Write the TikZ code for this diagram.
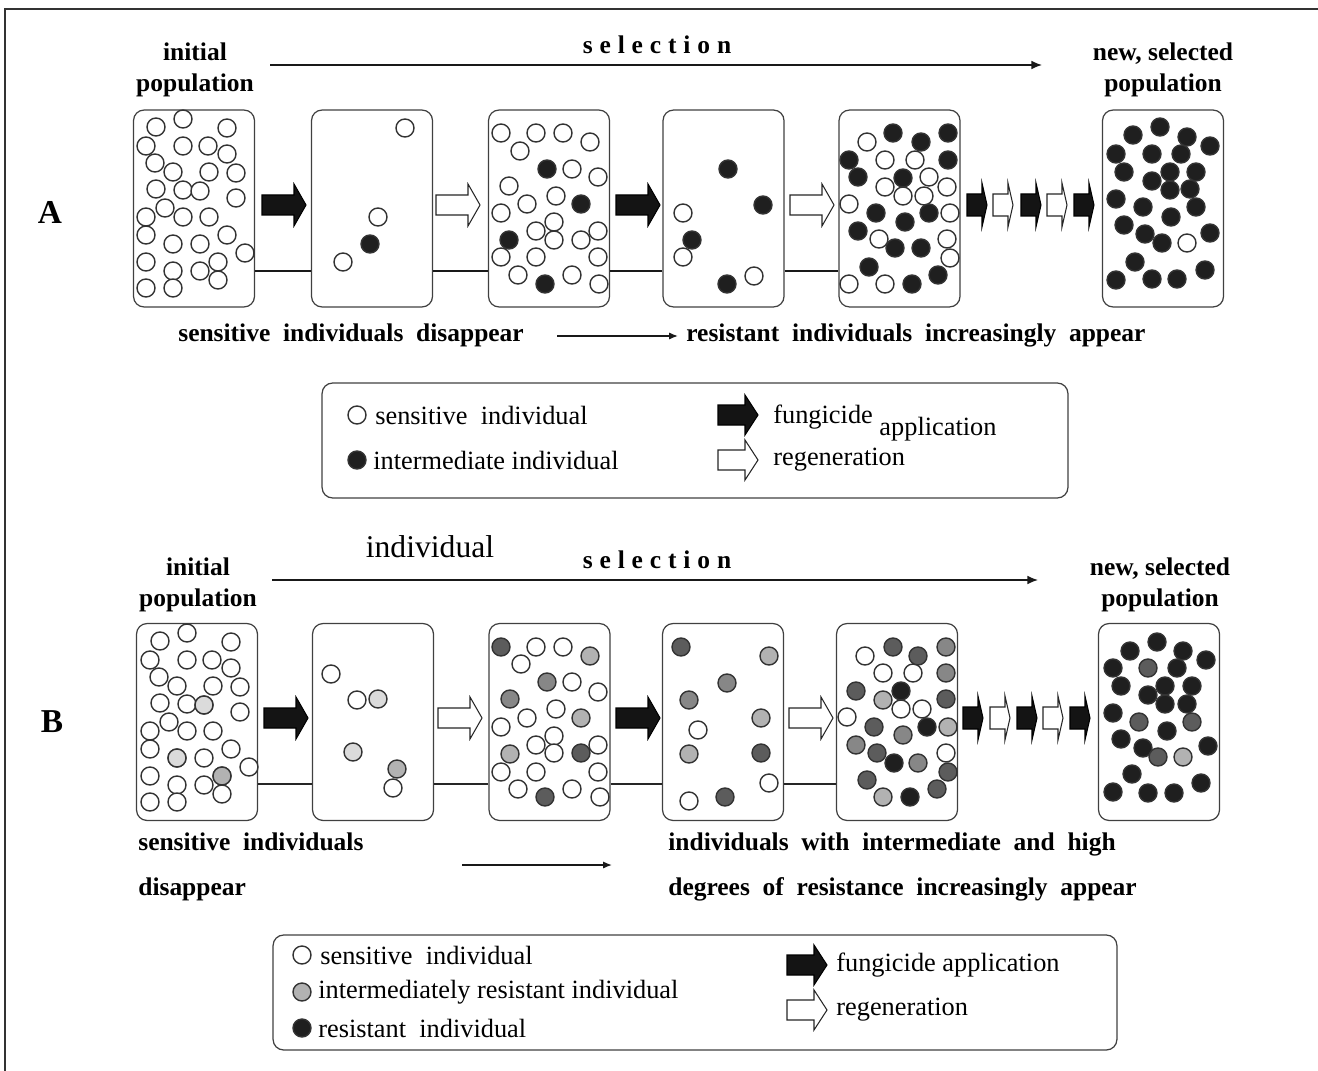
\documentclass[tikz,border=0pt]{standalone}
\usepackage{fontspec}
\setmainfont{Liberation Serif}
\usetikzlibrary{arrows.meta}
\newcommand{\labfont}{\fontsize{14.5}{17.6}\selectfont\bfseries}
\newcommand{\legfont}{\fontsize{15}{18}\selectfont}
\newcommand{\spaced}[1]{{\addfontfeatures{LetterSpace=27}#1}}
% positions of the first population, reused for B
\def\startpop{156/127,183/119,227/128,146/146,183/146,208/146,227/154,155/163,173/172,209/172,236/173,156/189,183/190,200/191,236/198,165/208,146/217,183/217,209/217,146/235,227/235,173/244,200/244,245/253,146/262,218/262,173/271,200/271,218/280,146/288,173/288}
\tikzset{
  indiv/.style={draw=black!80,line width=0.8pt},
  sensdot/.style={indiv,fill=white},
  paledot/.style={indiv,fill=black!14},
  ltdot/.style={indiv,fill=black!30},
  mddot/.style={indiv,fill=black!47},
  dkdot/.style={indiv,fill=black!64},
  resdot/.style={indiv,fill=black!88},
  popbox/.style={draw=black!75,line width=0.7pt,rounded corners=6pt,
                 minimum width=2.42cm,minimum height=3.94cm,inner sep=0pt},
  legbox/.style={draw=black!75,line width=0.7pt,rounded corners=6pt,
                 minimum height=2.3cm,inner sep=0pt},
  linkA/.style={black!90,line width=1.1pt},
  linkB/.style={black!85,line width=0.7pt},
  selarrow/.style={black!90,line width=0.9pt,-{Latex[length=6pt,width=5pt]}},
  bigarrow/.pic={\path[pic actions] (0,-10) -- (32,-10) -- (32,-21) -- (44,0)
                   -- (32,21) -- (32,10) -- (0,10) -- cycle;},
  smallarrow/.pic={\path[pic actions] (0,-11) -- (15,-11) -- (15,-22) -- (20,0)
                   -- (15,22) -- (15,11) -- (0,11) -- cycle;},
  legarrow/.pic={\path[pic actions] (0,-10) -- (27,-10) -- (27,-20) -- (40,0)
                   -- (27,20) -- (27,10) -- (0,10) -- cycle;},
  fung/.style={draw=black,fill=black!92,line width=0.6pt},
  regen/.style={draw=black!85,fill=white,line width=0.6pt},
}

\begin{document}
\begin{tikzpicture}[x=0.02cm,y=-0.02cm]
  \useasboundingbox (0,0) rectangle (1318,1071);
  \draw[black!80,line width=1.2pt] (5,1075) -- (5,9) -- (1322,9);

  % ---------------- A ----------------
  \node[font=\fontsize{19}{20}\selectfont\bfseries] (labA) at (50,212) {A};
  \node[font=\labfont,align=center] (initA) at (195,70) {initial\\population};
  \node[font=\labfont,align=center] (newA) at (1163,70) {new, selected\\population};
  \node[font=\labfont] (selA) at (657,45) {\spaced{selection}};
  \coordinate (selA1) at (270,65);
  \coordinate (selA2) at (1042,65);
  \draw[selarrow] (selA1) -- (selA2);

  \node[popbox] (a1) at (194,208.5) {};
  \node[popbox] (a2) at (372,208.5) {};
  \node[popbox] (a3) at (549,208.5) {};
  \node[popbox] (a4) at (723.5,208.5) {};
  \node[popbox] (a5) at (899.5,208.5) {};
  \node[popbox] (a6) at (1163,208.5) {};
  \foreach \p/\q in {a1/a2,a2/a3,a3/a4,a4/a5}
    \draw[linkA] ([yshift=-1.25cm]\p.east) -- ([yshift=-1.25cm]\q.west);

  \foreach \x/\y in \startpop \draw[sensdot] (\x,\y) circle[radius=0.18cm];
  \foreach \x/\y in {405/128,378/217,343/262} \draw[sensdot] (\x,\y) circle[radius=0.18cm];
  \foreach \x/\y in {370/244} \draw[resdot] (\x,\y) circle[radius=0.18cm];
  \foreach \x/\y in {501/133,536/133,563/133,590/142,520/151,572/169,598/177,509/186,
                     556/196,527/204,501/213,554/222,536/231,554/240,581/240,598/231,
                     501/257,536/257,598/257,518/275,572/275,599/284}
    \draw[sensdot] (\x,\y) circle[radius=0.18cm];
  \foreach \x/\y in {547/169,581/204,509/240,545/284} \draw[resdot] (\x,\y) circle[radius=0.18cm];
  \foreach \x/\y in {683/213,683/257,754/276} \draw[sensdot] (\x,\y) circle[radius=0.18cm];
  \foreach \x/\y in {728/169,763/205,692/240,727/284} \draw[resdot] (\x,\y) circle[radius=0.18cm];
  \foreach \x/\y in {867/142,885/160,915/160,929/177,885/187,903/196,924/196,947/187,
                     849/204,950/213,879/239,947/239,950/258,849/284,885/284}
    \draw[sensdot] (\x,\y) circle[radius=0.18cm];
  \foreach \x/\y in {893/133,921/142,948/133,849/160,948/160,858/177,903/178,876/213,
                     929/213,905/222,858/231,895/248,921/248,869/267,938/275,912/284}
    \draw[resdot] (\x,\y) circle[radius=0.18cm];
  \foreach \x/\y in {1133/135,1160/127,1187/137,1210/146,1116/154,1152/154,1181/154,
                     1124/172,1170/172,1196/172,1152/181,1170/190,1190/189,1116/199,
                     1143/207,1171/217,1196/207,1124/225,1145/234,1162/243,1210/233,
                     1135/262,1116/280,1152/279,1177/279,1205/270}
    \draw[resdot] (\x,\y) circle[radius=0.18cm];
  \draw[sensdot] (1187,243) circle[radius=0.18cm];

  \pic[fung] at (262,205) {bigarrow};
  \pic[regen] at (436,205) {bigarrow};
  \pic[fung] at (616,205) {bigarrow};
  \pic[regen] at (790,205) {bigarrow};
  \foreach \x in {967,1021,1074} \pic[fung] at (\x,205) {smallarrow};
  \foreach \x in {993,1047} \pic[regen] at (\x,205) {smallarrow};

  \node[font=\labfont,anchor=west,inner sep=0pt] (sensA) at (178,335)
        {sensitive\ \ individuals\ \ disappear};
  \node[font=\labfont,anchor=west,inner sep=0pt] (resA) at (686,335)
        {resistant\ \ individuals\ \ increasingly\ \ appear};
  \coordinate (dA1) at (557,336);
  \coordinate (dA2) at (678,336);
  \draw[black!90,line width=0.8pt,-{Latex[length=5pt,width=4pt]}] (dA1) -- (dA2);

  % legend A
  \node[legbox,minimum width=14.92cm] (legA) at (695,440.5) {};
  \draw[sensdot] (357,415) circle[radius=0.18cm];
  \draw[resdot] (357,460) circle[radius=0.18cm];
  \node[font=\legfont,anchor=west,inner sep=0pt] (lsA) at (375,415) {sensitive\ \ individual};
  \node[font=\legfont,anchor=west,inner sep=0pt] (liA) at (373,460) {intermediate individual};
  \pic[fung] at (718,415) {legarrow};
  \pic[regen] at (718,460) {legarrow};
  \node[font=\legfont,anchor=west,inner sep=0pt] (lfA) at (773,423)
        {fungicide \raisebox{-7pt}{application}};
  \node[font=\legfont,anchor=west,inner sep=0pt] (lrA) at (773,460) {regeneration};

  % ---------------- B ----------------
  \node[font=\fontsize{19}{20}\selectfont\bfseries] (labB) at (52,722) {B};
  \node[font=\labfont,align=center] (initB) at (198,585) {initial\\population};
  \node[font=\labfont,align=center] (newB) at (1160,585) {new, selected\\population};
  \node[font=\fontsize{18}{20}\selectfont] (indB) at (430,547) {individual};
  \node[font=\labfont] (selB) at (657,560) {\spaced{selection}};
  \coordinate (selB1) at (272,580);
  \coordinate (selB2) at (1038,580);
  \draw[selarrow] (selB1) -- (selB2);

  \node[popbox] (b1) at (197,722) {};
  \node[popbox] (b2) at (373,722) {};
  \node[popbox] (b3) at (549.5,722) {};
  \node[popbox] (b4) at (723,722) {};
  \node[popbox] (b5) at (897,722) {};
  \node[popbox] (b6) at (1159,722) {};
  \foreach \p/\q in {b1/b2,b2/b3,b3/b4,b4/b5}
    \draw[linkB] ([yshift=-1.24cm]\p.east) -- ([yshift=-1.24cm]\q.west);

  \begin{scope}[shift={(4,514)}]
    \foreach \x/\y in \startpop \draw[sensdot] (\x,\y) circle[radius=0.18cm];
    \foreach \x/\y in {200/191,173/244} \draw[paledot] (\x,\y) circle[radius=0.18cm];
    \draw[ltdot] (218,262) circle[radius=0.18cm];
  \end{scope}
  \foreach \x/\y in {331/674,357/700,393/788} \draw[sensdot] (\x,\y) circle[radius=0.18cm];
  \foreach \x/\y in {378/699,353/752} \draw[paledot] (\x,\y) circle[radius=0.18cm];
  \draw[ltdot] (397,769) circle[radius=0.18cm];

  \foreach \x/\y in {536/647,563/647,521/664,572/682,598/692,556/709,527/718,501/727,
                     554/736,536/745,554/753,598/745,501/772,536/772,598/772,518/789,
                     572/789,600/797}
    \draw[sensdot] (\x,\y) circle[radius=0.18cm];
  \foreach \x/\y in {590/656,581/718,510/754} \draw[ltdot] (\x,\y) circle[radius=0.18cm];
  \foreach \x/\y in {547/682,510/699} \draw[mddot] (\x,\y) circle[radius=0.18cm];
  \foreach \x/\y in {501/647,581/753,545/797} \draw[dkdot] (\x,\y) circle[radius=0.18cm];

  \foreach \x/\y in {698/730,769/783,689/801} \draw[sensdot] (\x,\y) circle[radius=0.18cm];
  \foreach \x/\y in {769/656,761/718,689/754} \draw[ltdot] (\x,\y) circle[radius=0.18cm];
  \foreach \x/\y in {727/683,689/700} \draw[mddot] (\x,\y) circle[radius=0.18cm];
  \foreach \x/\y in {681/647,761/753,725/797} \draw[dkdot] (\x,\y) circle[radius=0.18cm];

  \foreach \x/\y in {865/656,883/673,913/673,901/709,922/709,847/717,946/753}
    \draw[sensdot] (\x,\y) circle[radius=0.18cm];
  \foreach \x/\y in {883/700,948/727,883/797} \draw[ltdot] (\x,\y) circle[radius=0.18cm];
  \foreach \x/\y in {946/647,946/673,903/735,856/745,918/763} \draw[mddot] (\x,\y) circle[radius=0.18cm];
  \foreach \x/\y in {893/647,918/656,856/691,946/699,874/727,877/753,948/772,867/780,937/789}
    \draw[dkdot] (\x,\y) circle[radius=0.18cm];
  \foreach \x/\y in {901/691,927/727,894/763,910/797} \draw[resdot] (\x,\y) circle[radius=0.18cm];

  \foreach \x/\y in {1130/651,1157/642,1183/651,1206/660,1113/668,1177/668,1121/686,
                     1165/686,1192/686,1148/695,1165/704,1187/704,1113/713,1167/731,
                     1121/739,1143/748,1208/746,1132/774,1113/792,1148/793,1174/793,
                     1201/783}
    \draw[resdot] (\x,\y) circle[radius=0.18cm];
  \foreach \x/\y in {1148/668,1139/722,1192/722,1158/757} \draw[dkdot] (\x,\y) circle[radius=0.18cm];
  \draw[ltdot] (1183,757) circle[radius=0.18cm];

  \pic[fung] at (264,718) {bigarrow};
  \pic[regen] at (438,718) {bigarrow};
  \pic[fung] at (616,718) {bigarrow};
  \pic[regen] at (789,718) {bigarrow};
  \foreach \x in {963,1017,1070} \pic[fung] at (\x,718) {smallarrow};
  \foreach \x in {990,1043} \pic[regen] at (\x,718) {smallarrow};

  \node[font=\labfont,anchor=west,inner sep=0pt,align=left] (sensB) at (138,867)
        {sensitive\ \ individuals\\[8pt]disappear};
  \node[font=\labfont,anchor=west,inner sep=0pt,align=left] (resB) at (668,867)
        {individuals\ \ with\ \ intermediate\ \ and\ \ high\\[8pt]
         degrees\ \ of\ \ resistance\ \ increasingly\ \ appear};
  \coordinate (dB1) at (462,865);
  \coordinate (dB2) at (612,865);
  \draw[black!90,line width=0.8pt,-{Latex[length=5pt,width=4pt]}] (dB1) -- (dB2);

  % legend B
  \node[legbox,minimum width=16.88cm] (legB) at (695,992.5) {};
  \draw[sensdot] (302,955) circle[radius=0.18cm];
  \draw[ltdot] (302,992) circle[radius=0.18cm];
  \draw[resdot] (302,1028) circle[radius=0.18cm];
  \node[font=\legfont,anchor=west,inner sep=0pt] (lsB) at (320,955) {sensitive\ \ individual};
  \node[font=\legfont,anchor=west,inner sep=0pt] (liB) at (318,992) {intermediately resistant individual};
  \node[font=\legfont,anchor=west,inner sep=0pt] (lrsB) at (318,1028) {resistant\ \ individual};
  \pic[fung] at (787,965) {legarrow};
  \pic[regen] at (787,1010) {legarrow};
  \node[font=\legfont,anchor=west,inner sep=0pt] (lfB) at (836,965) {fungicide application};
  \node[font=\legfont,anchor=west,inner sep=0pt] (lrB) at (836,1010) {regeneration};
\end{tikzpicture}
\end{document}
